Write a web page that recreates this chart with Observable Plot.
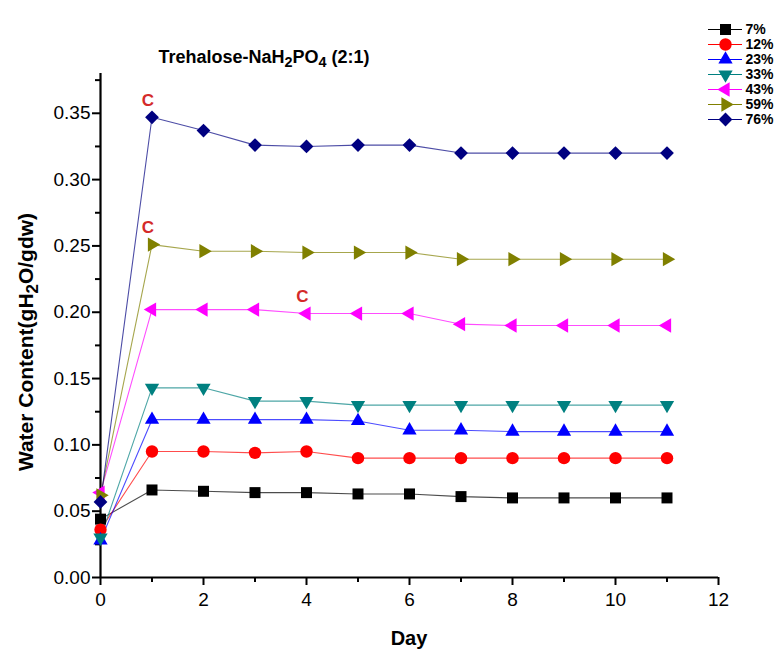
<!DOCTYPE html>
<html>
<head>
<meta charset="utf-8">
<script src="https://cdn.jsdelivr.net/npm/d3@7"></script>
<script src="https://cdn.jsdelivr.net/npm/@observablehq/plot@0.6"></script>
<style>
  body { margin: 0; background: #fff; }
  #wrap { position: relative; width: 775px; height: 649px; font-family: "Liberation Sans", Arial, sans-serif; color: #000; }
  #chart { position: absolute; left: 0; top: 0; }
  #legend { position: absolute; left: 700px; top: 0; }
  .lbl { position: absolute; font-weight: bold; white-space: nowrap; line-height: 1; }
  .lbl sub { font-size: 0.8em; vertical-align: baseline; position: relative; top: 0.3em; }
</style>
</head>
<body>
<div id="wrap">
  <div id="chart"></div>
  <div id="legend"></div>
  <div class="lbl" id="title" style="left:0;width:528px;text-align:center;top:48px;font-size:18px;">Trehalose-NaH<sub>2</sub>PO<sub>4</sub> (2:1)</div>
  <div class="lbl" id="ylab" style="left:26px;top:342px;font-size:21px;transform:translate(-50%,-50%) rotate(-90deg);">Water Content(gH<sub>2</sub>O/gdw)</div>
  <div class="lbl" id="xlab" style="left:409px;top:628px;font-size:20px;transform:translateX(-50%);">Day</div>
</div>
<script>
// ---- data ----
const days = [0, 1, 2, 3, 4, 5, 6, 7, 8, 9, 10, 11];
const seriesNames = ["7%", "12%", "23%", "33%", "43%", "59%", "76%"];
const s7  = [0.044, 0.066, 0.065, 0.064, 0.064, 0.063, 0.063, 0.061, 0.060, 0.060, 0.060, 0.060];
const s12 = [0.036, 0.095, 0.095, 0.094, 0.095, 0.090, 0.090, 0.090, 0.090, 0.090, 0.090, 0.090];
const s23 = [0.028, 0.119, 0.119, 0.119, 0.119, 0.118, 0.111, 0.111, 0.110, 0.110, 0.110, 0.110];
const s33 = [0.030, 0.143, 0.143, 0.133, 0.133, 0.130, 0.130, 0.130, 0.130, 0.130, 0.130, 0.130];
const s43 = [0.064, 0.202, 0.202, 0.202, 0.199, 0.199, 0.199, 0.191, 0.190, 0.190, 0.190, 0.190];
const s59 = [0.062, 0.251, 0.246, 0.246, 0.245, 0.245, 0.245, 0.240, 0.240, 0.240, 0.240, 0.240];
const s76 = [0.057, 0.347, 0.337, 0.326, 0.325, 0.326, 0.326, 0.320, 0.320, 0.320, 0.320, 0.320];
const seriesValues = [s7, s12, s23, s33, s43, s59, s76];

// annotations ("C" markers)
const noteSeries = ["76%", "59%", "43%"];
const noteDays = [1, 1, 4];
const noteText = ["C", "C", "C"];

// ticks
const yTicks = [0, 0.05, 0.10, 0.15, 0.20, 0.25, 0.30, 0.35];
const yMinor = [0.025, 0.075, 0.125, 0.175, 0.225, 0.275, 0.325, 0.375];
const xTicks = [0, 2, 4, 6, 8, 10, 12];
const xMinor = [1, 3, 5, 7, 9, 11];

// ---- styles ----
const colors = ["#000000", "#ff0000", "#0000ff", "#008080", "#ff00ff", "#808000", "#000080"];
const style = {
  "7%":  {symbol: "square",   rotate: 0,   r: 6.2},
  "12%": {symbol: "circle",   rotate: 0,   r: 6.2},
  "23%": {symbol: "triangle", rotate: 0,   r: 5.3},
  "33%": {symbol: "triangle", rotate: 180, r: 5.3},
  "43%": {symbol: "triangle", rotate: -90, r: 5.3},
  "59%": {symbol: "triangle", rotate: 90,  r: 5.3},
  "76%": {symbol: "square",   rotate: 45,  r: 5.5}
};

const rows = seriesNames.flatMap((s, i) => days.map((d, j) => ({series: s, day: d, value: seriesValues[i][j]})));
const notes = noteSeries.map((s, k) => {
  const i = seriesNames.indexOf(s);
  const j = days.indexOf(noteDays[k]);
  return {series: s, day: noteDays[k], value: seriesValues[i][j], text: noteText[k]};
});

const font = '"Liberation Sans", Arial, sans-serif';
const colorScale = {domain: seriesNames, range: colors};

const marks = [
  Plot.axisY({ticks: yTicks, tickSize: 8, tickPadding: 2, tickFormat: ".2f", label: null, strokeWidth: 2, fontSize: 19}),
  Plot.axisY({ticks: yMinor, tickSize: 5, text: null, label: null, strokeWidth: 2}),
  Plot.axisX({ticks: xTicks, tickSize: 8, tickPadding: 7, tickFormat: "d", label: null, strokeWidth: 2, fontSize: 19}),
  Plot.axisX({ticks: xMinor, tickSize: 5, text: null, label: null, strokeWidth: 2}),
  Plot.ruleX([0], {stroke: "#000", strokeWidth: 2.2}),
  Plot.ruleY([0], {stroke: "#000", strokeWidth: 2.2}),
  Plot.line(rows, {x: "day", y: "value", z: "series", stroke: "series", strokeWidth: 1.1, strokeOpacity: 0.7})
];
for (const s of seriesNames) {
  const st = style[s];
  marks.push(Plot.dot(rows.filter(d => d.series === s), {
    x: "day", y: "value", fill: "series", symbol: st.symbol, rotate: st.rotate, r: st.r, stroke: "none"
  }));
}
marks.push(Plot.text(notes, {x: "day", y: "value", text: "text", dy: -17, dx: -4, fill: "#d42a2a", fontWeight: "bold", fontSize: 17}));

const chart = Plot.plot({
  width: 775, height: 649,
  marginLeft: 100, marginRight: 57, marginTop: 73, marginBottom: 72,
  x: {domain: [0, 12]},
  y: {domain: [0, 0.38]},
  color: colorScale,
  style: {fontFamily: font, fontSize: "19px", color: "#000", background: "transparent", overflow: "visible"},
  marks
});
document.getElementById("chart").appendChild(chart);

// legend
const legendMarks = [
  Plot.ruleY(seriesNames, {y: d => d, x1: 0, x2: 1, stroke: d => d, strokeWidth: 1.2})
];
for (const s of seriesNames) {
  const st = style[s];
  legendMarks.push(Plot.dot([s], {x: () => 0.5, y: d => d, fill: d => d, symbol: st.symbol, rotate: st.rotate, r: st.r, stroke: "none"}));
}
legendMarks.push(Plot.text(seriesNames, {x: () => 1, y: d => d, text: d => d, dx: 3, textAnchor: "start", fontWeight: "bold", fontSize: 14}));

const legend = Plot.plot({
  width: 75, height: 140, margin: 0,
  x: {domain: [0, 1], range: [8, 42], axis: null},
  y: {type: "point", domain: seriesNames, range: [21, 127], axis: null},
  color: colorScale,
  style: {fontFamily: font, color: "#000", background: "transparent", overflow: "visible"},
  marks: legendMarks
});
document.getElementById("legend").appendChild(legend);
</script>
</body>
</html>
